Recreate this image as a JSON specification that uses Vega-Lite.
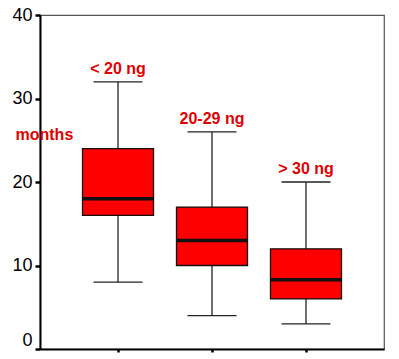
{
  "$schema": "https://vega.github.io/schema/vega-lite/v6.json",
  "width": 344,
  "height": 334,
  "autosize": {"type": "none"},
  "padding": {"left": 40, "top": 15, "right": 15, "bottom": 10},
  "background": "white",
  "config": {
    "view": {"stroke": "#555555", "strokeWidth": 1.2},
    "font": "Liberation Sans"
  },
  "data": {
    "values": [
      {"group": "< 20 ng", "lower": 8, "q1": 16, "median": 18, "q3": 24, "upper": 32},
      {"group": "20-29 ng", "lower": 4, "q1": 10, "median": 13, "q3": 17, "upper": 26},
      {"group": "> 30 ng", "lower": 3, "q1": 6, "median": 8.3, "q3": 12, "upper": 20}
    ]
  },
  "encoding": {
    "x": {
      "field": "group",
      "type": "nominal",
      "sort": null,
      "scale": {"type": "point", "padding": 0.83},
      "axis": {
        "title": null,
        "labels": false,
        "domainColor": "black",
        "domainWidth": 2,
        "tickColor": "black",
        "tickWidth": 2.5,
        "tickSize": 3
      }
    }
  },
  "layer": [
    {
      "mark": {"type": "rule", "color": "#222222", "strokeWidth": 1.3},
      "encoding": {
        "y": {
          "field": "lower",
          "type": "quantitative",
          "scale": {"domain": [0, 40], "nice": false},
          "axis": {
            "values": [0, 10, 20, 30, 40],
            "grid": false,
            "domainColor": "black",
            "domainWidth": 2,
            "tickColor": "black",
            "tickWidth": 2.5,
            "tickSize": 5,
            "labelPadding": 3,
            "labelFont": "Liberation Sans",
            "labelFontSize": 18,
            "labelColor": "black",
            "labelBaseline": {"condition": {"test": "datum.value == 0", "value": "bottom"}, "value": "middle"},
            "labelFlush": false,
            "title": "months",
            "titleAngle": 0,
            "titleAlign": "left",
            "titleBaseline": "alphabetic",
            "titleX": -25,
            "titleY": 124,
            "titleFont": "Liberation Sans",
            "titleFontSize": 16,
            "titleFontWeight": "bold",
            "titleColor": "#e00000"
          }
        },
        "y2": {"field": "upper"}
      }
    },
    {
      "mark": {"type": "tick", "color": "#222222", "size": 49, "thickness": 1.3, "opacity": 1},
      "encoding": {"y": {"field": "lower", "type": "quantitative"}}
    },
    {
      "mark": {"type": "tick", "color": "#222222", "size": 49, "thickness": 1.3, "opacity": 1},
      "encoding": {"y": {"field": "upper", "type": "quantitative"}}
    },
    {
      "mark": {"type": "bar", "width": 71, "fill": "#ff0000", "stroke": "#111111", "strokeWidth": 1.3},
      "encoding": {
        "y": {"field": "q1", "type": "quantitative"},
        "y2": {"field": "q3"}
      }
    },
    {
      "mark": {"type": "tick", "color": "#111111", "size": 71, "thickness": 3.4, "opacity": 1},
      "encoding": {"y": {"field": "median", "type": "quantitative"}}
    },
    {
      "mark": {"type": "text", "color": "#e00000", "font": "Liberation Sans", "fontSize": 16, "fontWeight": "bold", "baseline": "alphabetic", "align": "center", "dy": -8},
      "encoding": {
        "y": {"field": "upper", "type": "quantitative"},
        "text": {"field": "group"}
      }
    }
  ]
}
